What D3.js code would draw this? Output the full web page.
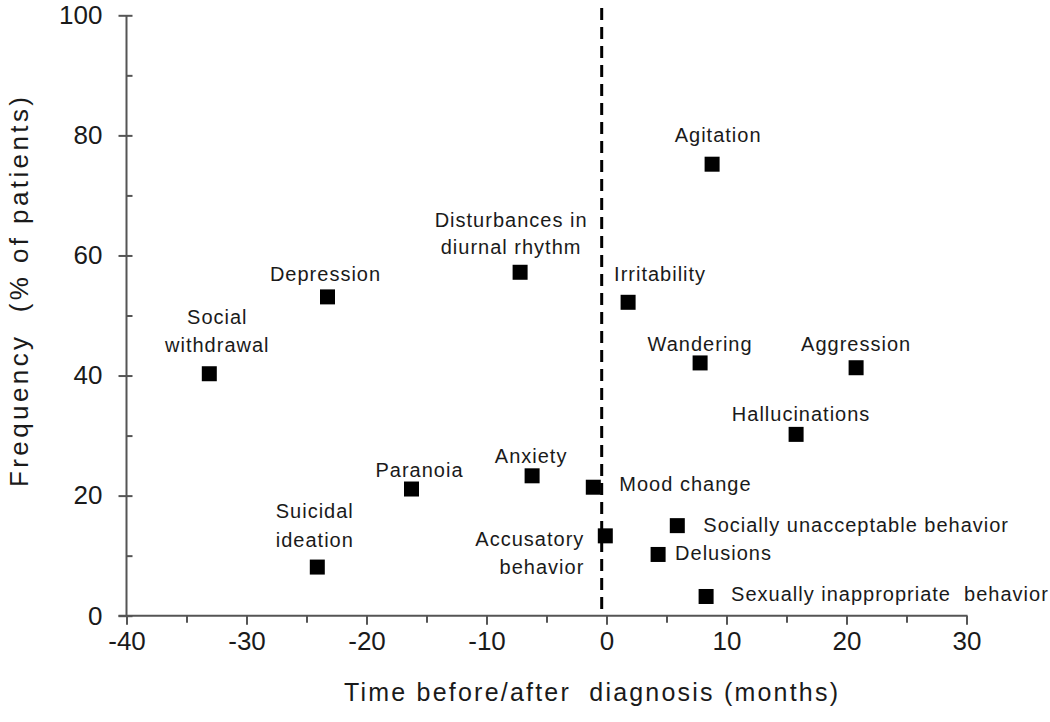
<!DOCTYPE html>
<html>
<head>
<meta charset="utf-8">
<script src="https://cdn.jsdelivr.net/npm/d3@7"></script>
<style>
  html, body { margin: 0; padding: 0; background: #fff; }
  svg { display: block; }
  text { font-family: "Liberation Sans", Arial, sans-serif; fill: #1a1a1a; }
</style>
</head>
<body>
<svg id="chart" width="1050" height="722"></svg>
<script>
// ---- data ----
const symptoms = [
  "Social withdrawal", "Depression", "Suicidal ideation", "Paranoia",
  "Disturbances in diurnal rhythm", "Anxiety", "Mood change", "Accusatory behavior",
  "Irritability", "Delusions", "Socially unacceptable behavior", "Wandering",
  "Sexually inappropriate behavior", "Agitation", "Hallucinations", "Aggression"
];
const monthsFromDiagnosis = [-33.1, -23.25, -24.1, -16.25, -7.2, -6.2, -1.1, -0.1,
                             1.8, 4.3, 5.9, 7.8, 8.3, 8.8, 15.8, 20.8];
const frequencyPct = [40.3, 53.1, 8.1, 21.1, 57.2, 23.3, 21.4, 13.3,
                      52.2, 10.2, 15.0, 42.1, 3.2, 75.2, 30.2, 41.3];
const labelLines = [
  ["Social", "withdrawal"], ["Depression"], ["Suicidal", "ideation"], ["Paranoia"],
  ["Disturbances in", "diurnal rhythm"], ["Anxiety"], ["Mood change"], ["Accusatory", "behavior"],
  ["Irritability"], ["Delusions"], ["Socially unacceptable behavior"], ["Wandering"],
  ["Sexually inappropriate  behavior"], ["Agitation"], ["Hallucinations"], ["Aggression"]
];
const xTicks = [-40, -30, -20, -10, 0, 10, 20, 30];
const xMinorTicks = [-35, -25, -15, -5, 5, 15, 25];
const yTicks = [0, 20, 40, 60, 80, 100];
const yMinorTicks = [10, 30, 50, 70, 90];
const diagnosisMonth = -0.4;
const xTitle = "Time before/after  diagnosis (months)";
const yTitle = "Frequency  (% of patients)";

// ---- label layout (pixel offsets from each marker) ----
const labelLayout = [
  {anchor: "middle", dx: 8, dy: -49.6, lh: 28},
  {anchor: "middle", dx: -2, dy: -16, lh: 28},
  {anchor: "middle", dx: -2.5, dy: -48.7, lh: 28.4},
  {anchor: "middle", dx: 8, dy: -12.5, lh: 28},
  {anchor: "middle", dx: -9, dy: -45.5, lh: 27.5},
  {anchor: "middle", dx: -1, dy: -12.5, lh: 28},
  {anchor: "start", dx: 26, dy: 3.5, lh: 28},
  {anchor: "end", dx: -21, dy: 10, lh: 28},
  {anchor: "start", dx: -14, dy: -21, lh: 28},
  {anchor: "start", dx: 17, dy: 6, lh: 28},
  {anchor: "start", dx: 26, dy: 6, lh: 28},
  {anchor: "middle", dx: 0, dy: -12, lh: 28},
  {anchor: "start", dx: 25, dy: 5, lh: 28},
  {anchor: "middle", dx: 6, dy: -22, lh: 28},
  {anchor: "middle", dx: 5, dy: -13, lh: 28},
  {anchor: "middle", dx: 0, dy: -17, lh: 28}
];

const points = symptoms.map((s, i) => ({
  name: s, x: monthsFromDiagnosis[i], y: frequencyPct[i], lines: labelLines[i], lay: labelLayout[i]
}));

// ---- layout ----
const svg = d3.select("#chart");
const x = d3.scaleLinear().domain([-40, 30]).range([126.5, 966.5]);
const y = d3.scaleLinear().domain([0, 100]).range([615.7, 15.3]);
const axisColor = "#555";
const fmt = d => String(d);

// x axis
const gx = svg.append("g").attr("transform", `translate(0,${y(0)})`);
gx.call(d3.axisBottom(x).tickValues(xTicks).tickSizeInner(9).tickSizeOuter(0).tickPadding(7).tickFormat(fmt));
gx.select(".domain").attr("stroke", axisColor).attr("stroke-width", 2).attr("d", `M${x(-40) - 8},0H${x(30) + 1}`);
gx.selectAll(".tick line").attr("stroke", axisColor).attr("stroke-width", 2);
gx.selectAll(".tick text").attr("font-size", 26).attr("fill", "#1a1a1a")
  .attr("font-family", "Liberation Sans, Arial, sans-serif").attr("dy", "0.71em");
const gxm = svg.append("g").attr("transform", `translate(0,${y(0)})`);
gxm.call(d3.axisBottom(x).tickValues(xMinorTicks).tickSizeInner(7).tickSizeOuter(0).tickFormat(""));
gxm.select(".domain").remove();
gxm.selectAll(".tick line").attr("stroke", axisColor).attr("stroke-width", 2);

// y axis
const gy = svg.append("g").attr("transform", `translate(${x(-40)},0)`);
gy.call(d3.axisLeft(y).tickValues(yTicks).tickSizeInner(8).tickSizeOuter(0).tickPadding(16).tickFormat(fmt));
gy.select(".domain").attr("stroke", axisColor).attr("stroke-width", 2).attr("d", `M0,${y(100)}V${y(0) + 1}`);
gy.selectAll(".tick line").attr("stroke", axisColor).attr("stroke-width", 2).attr("x2", -8).attr("x1", 6);
gy.selectAll(".tick text").attr("font-size", 26).attr("fill", "#1a1a1a")
  .attr("font-family", "Liberation Sans, Arial, sans-serif");
const gym = svg.append("g").attr("transform", `translate(${x(-40)},0)`);
gym.call(d3.axisRight(y).tickValues(yMinorTicks).tickSizeInner(6).tickSizeOuter(0).tickFormat(""));
gym.select(".domain").remove();
gym.selectAll(".tick line").attr("stroke", axisColor).attr("stroke-width", 2);

// diagnosis dashed line
svg.append("line")
  .attr("x1", x(diagnosisMonth)).attr("x2", x(diagnosisMonth))
  .attr("y1", y(101.2)).attr("y2", y(0.6))
  .attr("stroke", "#000").attr("stroke-width", 3)
  .attr("stroke-dasharray", "12,7");

// markers
const size = 15;
svg.append("g").selectAll("rect").data(points).join("rect")
  .attr("x", d => x(d.x) - size / 2)
  .attr("y", d => y(d.y) - size / 2)
  .attr("width", size).attr("height", size)
  .attr("fill", "#000");

// labels
const lab = svg.append("g").selectAll("text").data(points).join("text")
  .attr("font-size", 20).attr("letter-spacing", 1)
  .attr("text-anchor", d => d.lay.anchor)
  .attr("x", d => x(d.x) + d.lay.dx)
  .attr("y", d => y(d.y) + d.lay.dy);
lab.each(function(d) {
  const t = d3.select(this);
  d.lines.forEach((ln, k) => {
    t.append("tspan").attr("x", x(d.x) + d.lay.dx)
      .attr("y", y(d.y) + d.lay.dy + k * d.lay.lh)
      .attr("xml:space", "preserve").style("white-space", "pre")
      .text(ln);
  });
});

// axis titles
svg.append("text").attr("x", 591).attr("y", 701).attr("text-anchor", "middle")
  .attr("font-size", 25).style("white-space", "pre")
  .attr("textLength", 494).attr("lengthAdjust", "spacing")
  .text(xTitle);
svg.append("text").attr("transform", "translate(28,292) rotate(-90)").attr("text-anchor", "middle")
  .attr("font-size", 26).style("white-space", "pre")
  .attr("textLength", 390).attr("lengthAdjust", "spacing")
  .text(yTitle);
</script>
</body>
</html>
